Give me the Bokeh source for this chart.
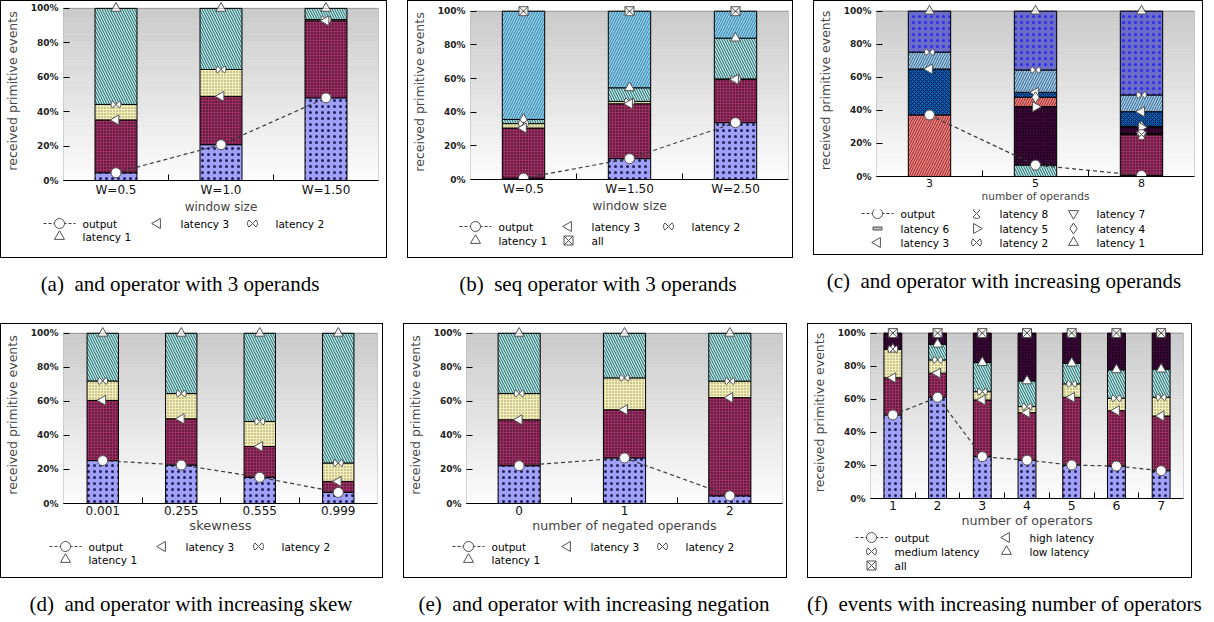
import math
import numpy as np
from bokeh.plotting import figure
from bokeh.models import Range1d, FixedTicker, BoxAnnotation, Div
from bokeh.layouts import row, column
from bokeh.embed import file_html
from bokeh.resources import INLINE
from bokeh.core.properties import value

NaN = float("nan")

# ---------------- data: cumulative top of each stacked segment (%) ----------------
y_ticks = [0, 20, 40, 60, 80, 100]
y_tick_labels = ["0%", "20%", "40%", "60%", "80%", "100%"]

a_categories = ["W=0.5", "W=1.0", "W=1.50"]
a_output = [4.5, 20.8, 48.0]
a_latency3 = [35.2, 48.9, 92.8]
a_latency2 = [44.2, 64.5, 93.5]
a_latency1 = [100.0, 100.0, 100.0]

b_categories = ["W=0.5", "W=1.50", "W=2.50"]
b_output = [0.8, 12.4, 33.8]
b_latency3 = [30.6, 45.0, 59.5]
b_latency2 = [33.2, 46.4, 59.8]
b_latency1 = [35.7, 54.5, 84.0]
b_all = [100.0, 100.0, 100.0]

c_categories = ["3", "5", "8"]
c_output = [37.2, 6.9, 0.6]
c_latency8 = [NaN, NaN, 25.3]
c_latency7 = [NaN, NaN, 25.5]
c_latency6 = [NaN, NaN, 25.8]
c_latency5 = [NaN, 42.2, 29.8]
c_latency4 = [NaN, 47.9, 30.3]
c_latency3 = [65.0, 50.9, 39.2]
c_latency2 = [75.2, 64.4, 49.3]
c_latency1 = [100.0, 100.0, 100.0]

d_categories = ["0.001", "0.255", "0.555", "0.999"]
d_output = [25.2, 22.6, 15.4, 6.5]
d_latency3 = [60.6, 49.8, 33.5, 13.0]
d_latency2 = [72.0, 64.6, 48.2, 23.8]
d_latency1 = [100.0, 100.0, 100.0, 100.0]

e_categories = ["0", "1", "2"]
e_output = [22.2, 26.8, 4.5]
e_latency3 = [49.2, 55.1, 62.2]
e_latency2 = [64.6, 73.8, 71.9]
e_latency1 = [100.0, 100.0, 100.0]

f_categories = ["1", "2", "3", "4", "5", "6", "7"]
f_output = [50.5, 61.2, 25.3, 23.2, 20.2, 19.6, 16.8]
f_high = [73.0, 75.8, 59.6, 51.9, 61.2, 53.1, 49.9]
f_medium = [90.3, 83.8, 64.6, 55.6, 69.3, 60.6, 61.2]
f_low = [90.3, 93.3, 82.2, 71.1, 81.8, 77.8, 78.2]
f_all = [100.0, 100.0, 100.0, 100.0, 100.0, 100.0, 100.0]

# ---------------- styles ----------------
FILLS = {
    "blue": dict(fill_color="#a0a0f8", hatch_pattern="dot", hatch_color="#20205a", hatch_scale=6, hatch_weight=1.2),
    "maroon": dict(fill_color="#9b2f62", hatch_pattern="dot", hatch_color="#1a0010", hatch_scale=3, hatch_weight=1.1),
    "yellow": dict(fill_color="#f3efb6", hatch_pattern="dot", hatch_color="#8a8660", hatch_scale=3, hatch_weight=1),
    "cyan": dict(fill_color="#b4eeee", hatch_pattern="left_diagonal_line", hatch_color="#2f5c5c", hatch_scale=5, hatch_weight=1.0),
    "sky": dict(fill_color="#8fd2f0", hatch_pattern="right_diagonal_line", hatch_color="#3d7da0", hatch_scale=5, hatch_weight=1),
    "purple": dict(fill_color="#3a0838", hatch_pattern="dot", hatch_color="#000000", hatch_scale=3, hatch_weight=1),
    "salmon": dict(fill_color="#ff8080", hatch_pattern="right_diagonal_line", hatch_color="#7a3030", hatch_scale=5, hatch_weight=1),
    "navy": dict(fill_color="#0a5cb0", hatch_pattern="diagonal_cross", hatch_color="#002050", hatch_scale=4, hatch_weight=1),
    "lightblue": dict(fill_color="#9fcfee", hatch_pattern="right_diagonal_line", hatch_color="#406080", hatch_scale=5, hatch_weight=1),
    "slate": dict(fill_color="#6b6bc8", hatch_pattern="dot", hatch_color="#2a2aee", hatch_scale=6, hatch_weight=1),
}
MK = dict(fill_color="white", line_color="#505050", line_width=1)
FONT = "DejaVu Sans"
INNER_W = 380
BOX_INNER_H = 253
YMAX = 104


def draw_marker(p, kind, xs, ys):
    xs = list(xs)
    ys = list(ys)
    if not xs:
        return
    if kind == "circle":
        p.scatter(xs, ys, marker="circle", size=10, **MK)
    elif kind == "tri_up":
        p.scatter(xs, ys, marker="triangle", size=10, **MK)
    elif kind == "tri_down":
        p.scatter(xs, ys, marker="inverted_triangle", size=10, **MK)
    elif kind == "tri_left":
        p.scatter(xs, ys, marker="triangle", size=10, angle=math.pi / 2, **MK)
    elif kind == "tri_right":
        p.scatter(xs, ys, marker="triangle", size=10, angle=-math.pi / 2, **MK)
    elif kind == "diamond":
        p.scatter(xs, ys, marker="diamond", size=11, **MK)
    elif kind == "square_x":
        p.scatter(xs, ys, marker="square_x", size=9, **MK)
    elif kind == "minus":
        p.rect(x=xs, y=ys, width=9, height=3, width_units="screen", height_units="screen",
               fill_color="#c0c0c0", line_color="#505050")
    elif kind == "bowtie":
        for a0 in (-math.pi / 4, 3 * math.pi / 4):
            p.wedge(x=xs, y=ys, radius=5, radius_units="screen", start_angle=a0,
                    end_angle=a0 + math.pi / 2, **MK)
    elif kind == "hourglass":
        for a0 in (math.pi / 4, 5 * math.pi / 4):
            p.wedge(x=xs, y=ys, radius=5, radius_units="screen", start_angle=a0,
                    end_angle=a0 + math.pi / 2, **MK)


def make_panel(cats, series, palette, geom, xlabel, tick_fs, xlabel_fs, caption_label, caption_text, cap_h, cap_shift=0):
    n = len(cats)
    fl, fr, y100, y0 = geom["fl"], geom["fr"], geom["y100"], geom["y0"]
    frame_h = int(round((y0 - y100) * YMAX / 100.0))
    top_b = max(0, y0 - frame_h - 1)
    bottom_b = 33
    chart_h = top_b + frame_h + bottom_b
    p = figure(frame_width=fr - fl, frame_height=frame_h,
               x_range=Range1d(-0.5, n - 0.5), y_range=Range1d(0, YMAX),
               toolbar_location=None, output_backend="svg",
               min_border_left=fl - 1, min_border_right=INNER_W - (fr - 1),
               min_border_top=top_b, min_border_bottom=bottom_b,
               outline_line_color=None, background_fill_color="white", border_fill_color="white")
    p.grid.visible = False

    # background gradient (style)
    nb = 60
    edges = np.linspace(0, 100, nb + 1)
    shades = np.linspace(253, 203, nb)
    cols = ["#%02x%02x%02x" % (int(s), int(s), int(s)) for s in shades]
    p.quad(left=-0.5, right=n - 0.5, bottom=edges[:-1], top=edges[1:], fill_color=cols, line_color=cols, line_width=0.6)

    # stacked bars
    seg = {}
    for i in range(n):
        present = [j for j, s in enumerate(series) if not math.isnan(s[1][i])]
        m = len(present)
        prev = 0.0
        for k, j in enumerate(present):
            style = palette[len(series) - m + k]
            topv = series[j][1][i]
            d = seg.setdefault(style, dict(x=[], bottom=[], top=[]))
            d["x"].append(i)
            d["bottom"].append(prev)
            d["top"].append(topv)
            prev = topv
    for style, d in seg.items():
        p.vbar(x=d["x"], width=0.4, bottom=d["bottom"], top=d["top"], line_color="black", line_width=1, **FILLS[style])

    # output line
    out = series[0][1]
    p.line(list(range(n)), out, line_dash="4 3", line_color="#3a3a3a", line_width=1.2)
    for label, vals, kind in reversed(series):
        xs = [i for i in range(n) if not math.isnan(vals[i])]
        ys = [vals[i] for i in xs]
        draw_marker(p, kind, xs, ys)

    p.add_layout(BoxAnnotation(left=-0.5, right=n - 0.5, bottom=0, top=100, fill_color=None,
                               line_color="black", line_width=1))

    xa = p.xaxis[0]
    xa.ticker = FixedTicker(ticks=list(range(n)), minor_ticks=[i + 0.5 for i in range(n - 1)])
    xa.major_label_overrides = {i: c for i, c in enumerate(cats)}
    xa.major_tick_in = 0
    xa.major_tick_out = 0
    xa.minor_tick_in = 6
    xa.minor_tick_out = 0
    xa.axis_line_color = "black"
    xa.major_label_standoff = 2
    xa.axis_label = xlabel
    xa.axis_label_standoff = 0
    xa.axis_label_text_font = FONT
    xa.axis_label_text_font_style = "normal"
    xa.axis_label_text_font_size = "%spx" % xlabel_fs
    xa.major_label_text_font = FONT
    xa.major_label_text_font_size = "%spx" % tick_fs
    xa.major_label_text_color = "#111111"

    ya = p.yaxis[0]
    ya.ticker = FixedTicker(ticks=y_ticks)
    ya.major_label_overrides = {t: l for t, l in zip(y_ticks, y_tick_labels)}
    ya.major_tick_in = 6
    ya.major_tick_out = 0
    ya.axis_line_color = None
    ya.major_label_standoff = 5
    ya.major_label_text_font = FONT
    ya.major_label_text_font_style = "bold"
    ya.major_label_text_font_size = "9px"
    ya.major_label_text_color = "#222222"
    ya.axis_label = "received primitive events"
    ya.axis_label_standoff = 8
    ya.axis_label_text_font = FONT
    ya.axis_label_text_font_style = "normal"
    ya.axis_label_text_font_size = "12.5px"

    # legend figure
    leg_h = BOX_INNER_H - chart_h
    lg = figure(width=INNER_W, height=leg_h, x_range=Range1d(0, INNER_W), y_range=Range1d(0, leg_h),
                toolbar_location=None, output_backend="svg", x_axis_location=None, y_axis_location=None,
                min_border=0, min_border_left=0, min_border_right=0, min_border_top=0, min_border_bottom=0,
                outline_line_color=None, background_fill_color="white", border_fill_color="white")
    lg.grid.visible = False
    rows_y, cols_x = geom["rows"], geom["cols"]
    ncol = len(cols_x)
    tx, ty, tl = [], [], []
    for k, (label, vals, kind) in enumerate(series):
        r, c = divmod(k, ncol)
        sx = cols_x[c] - 1
        sy = leg_h - (rows_y[r] - 1 - chart_h)
        if k == 0:
            lg.line([sx - 16, sx + 16], [sy, sy], line_dash="3 2", line_color="#3a3a3a", line_width=1)
        draw_marker(lg, kind, [sx], [sy])
        tx.append(sx + 23)
        ty.append(sy)
        tl.append(label)
    lg.text(x=tx, y=ty, text=tl, text_font=value(FONT), text_font_size="10.5px",
            text_baseline="middle", text_align="left", text_color="black")

    box = column(p, row(lg, spacing=0), spacing=0, styles={"border": "1px solid black"})
    html = ('<div style="width:%dpx;padding-top:14px;text-align:center;font-family:\'Liberation Serif\',serif;'
            'font-size:21px;line-height:24px;white-space:pre;color:#000;position:relative;left:%dpx">%s  %s</div>'
            % (INNER_W + 2, cap_shift, caption_label, caption_text))
    cap = Div(text=html, width=INNER_W + 2, height=cap_h, margin=(0, 0, 0, 0))
    return column(box, cap, spacing=0)


pal4 = ["blue", "maroon", "yellow", "cyan"]

panel_a = make_panel(
    a_categories,
    [("output", a_output, "circle"), ("latency 3", a_latency3, "tri_left"),
     ("latency 2", a_latency2, "bowtie"), ("latency 1", a_latency1, "tri_up")],
    pal4, dict(fl=58, fr=373, y100=7, y0=179, rows=[220, 233], cols=[59, 157, 252]),
    "window size", 12, 12, "(a)", "and operator with 3 operands", 65, -11)

panel_b = make_panel(
    b_categories,
    [("output", b_output, "circle"), ("latency 3", b_latency3, "tri_left"),
     ("latency 2", b_latency2, "bowtie"), ("latency 1", b_latency1, "tri_up"), ("all", b_all, "square_x")],
    pal4 + ["sky"], dict(fl=59, fr=377, y100=11, y0=179, rows=[223, 237], cols=[68, 161, 261]),
    "window size", 12, 12.3, "(b)", "seq operator with 3 operands", 65)

panel_c = make_panel(
    c_categories,
    [("output", c_output, "circle"), ("latency 8", c_latency8, "hourglass"), ("latency 7", c_latency7, "tri_down"),
     ("latency 6", c_latency6, "minus"), ("latency 5", c_latency5, "tri_right"), ("latency 4", c_latency4, "diamond"),
     ("latency 3", c_latency3, "tri_left"), ("latency 2", c_latency2, "bowtie"), ("latency 1", c_latency1, "tri_up")],
    ["blue", "maroon", "yellow", "cyan", "purple", "salmon", "navy", "lightblue", "slate"],
    dict(fl=55, fr=373, y100=11, y0=176, rows=[213, 228, 242], cols=[64, 163, 260]),
    "number of operands", 11, 10.6, "(c)", "and operator with increasing operands", 65)

panel_d = make_panel(
    d_categories,
    [("output", d_output, "circle"), ("latency 3", d_latency3, "tri_left"),
     ("latency 2", d_latency2, "bowtie"), ("latency 1", d_latency1, "tri_up")],
    pal4, dict(fl=62, fr=376, y100=10, y0=180, rows=[223, 236], cols=[65, 162, 258]),
    "skewness", 12, 13, "(d)", "and operator with increasing skew", 34)

panel_e = make_panel(
    e_categories,
    [("output", e_output, "circle"), ("latency 3", e_latency3, "tri_left"),
     ("latency 2", e_latency2, "bowtie"), ("latency 1", e_latency1, "tri_up")],
    pal4, dict(fl=61, fr=377, y100=10, y0=180, rows=[223, 236], cols=[65, 164, 259]),
    "number of negated operands", 12, 12.6, "(e)", "and operator with increasing negation", 34)

panel_f = make_panel(
    f_categories,
    [("output", f_output, "circle"), ("high latency", f_high, "tri_left"),
     ("medium latency", f_medium, "bowtie"), ("low latency", f_low, "tri_up"), ("all", f_all, "square_x")],
    pal4 + ["purple"], dict(fl=60, fr=373, y100=10, y0=175, rows=[214, 228, 242], cols=[64, 199]),
    "number of operators", 12.5, 12.7, "(f)", "events with increasing number of operators", 34)

page = column(row(panel_a, panel_b, panel_c, spacing=20),
              row(panel_d, panel_e, panel_f, spacing=20), spacing=0)

open("out.html", "w").write(file_html(page, INLINE, title="received primitive events"))
